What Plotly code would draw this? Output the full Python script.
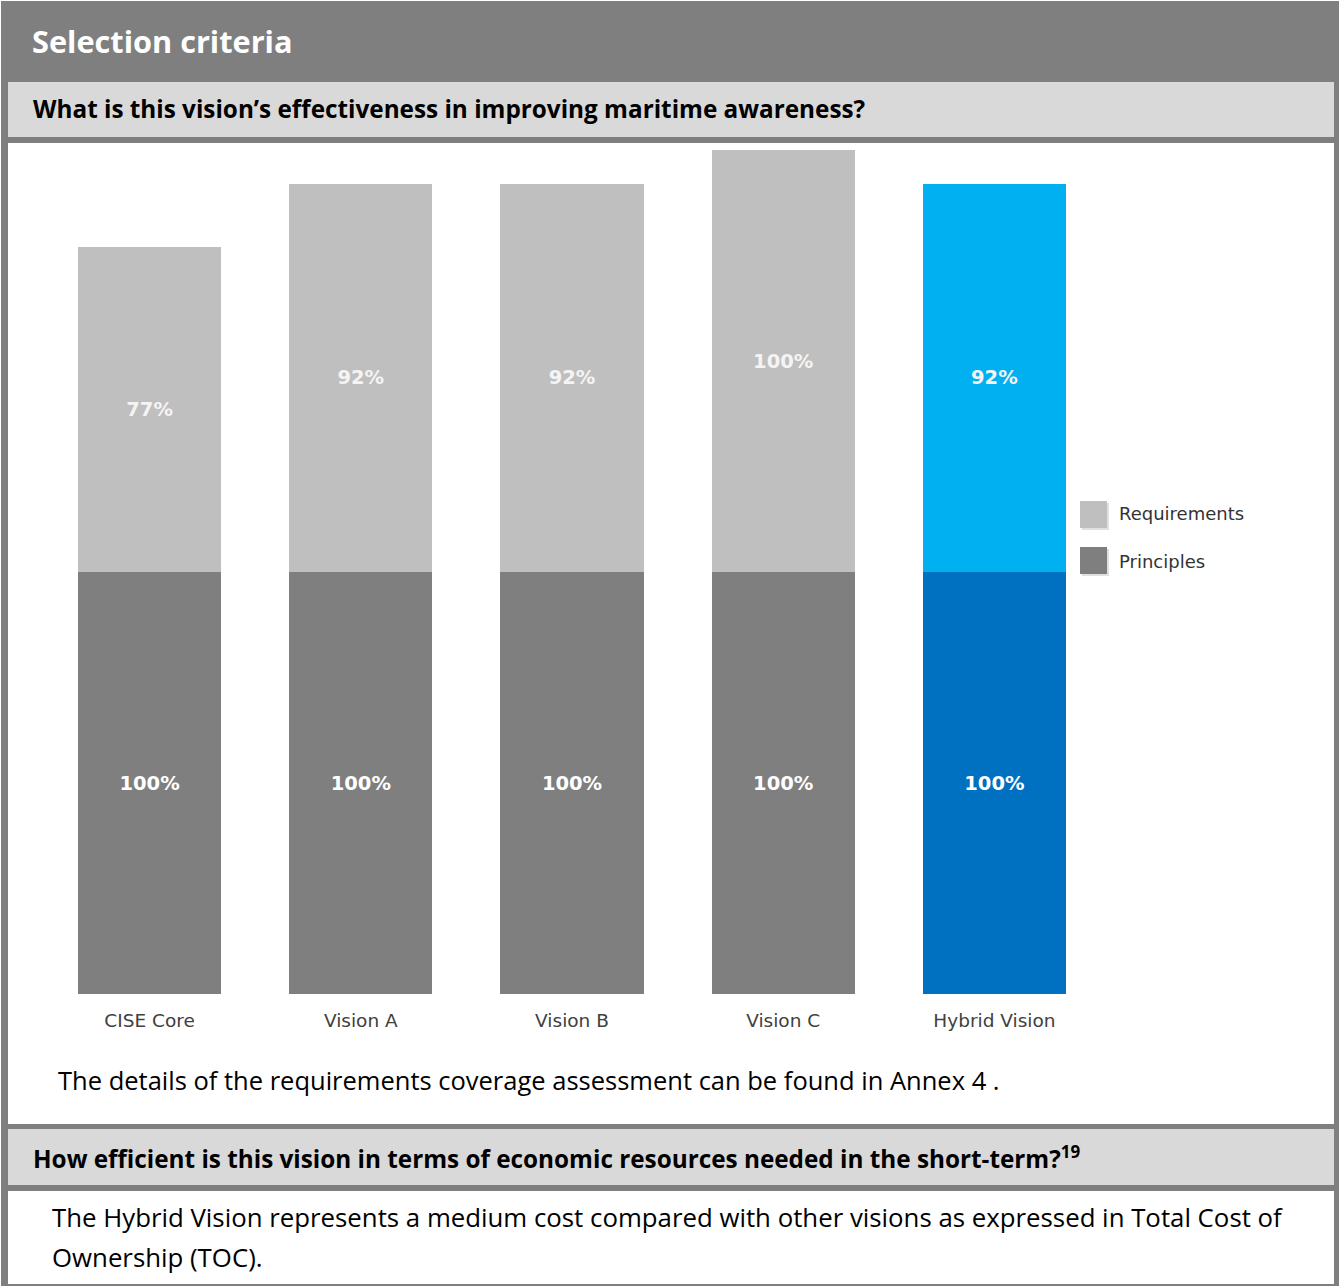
import plotly.graph_objects as go

W, H = 1339, 1286

categories = ["CISE Core", "Vision A", "Vision B", "Vision C", "Hybrid Vision"]
principles = [100, 100, 100, 100, 100]
requirements = [77, 92, 92, 100, 92]
principles_colors = ["#7f7f7f", "#7f7f7f", "#7f7f7f", "#7f7f7f", "#0070c0"]
requirements_colors = ["#bfbfbf", "#bfbfbf", "#bfbfbf", "#bfbfbf", "#00b0f0"]

title_text = "Selection criteria"
question1 = "What is this vision’s effectiveness in improving maritime awareness?"
note1 = "The details of the requirements coverage assessment can be found in Annex 4 ."
question2 = "How efficient is this vision in terms of economic resources needed in the short-term?<sup>19</sup>"
note2_line1 = "The Hybrid Vision represents a medium cost compared with other visions as expressed in Total Cost of"
note2_line2 = "Ownership (TOC)."


def xp(px):
    return px / W


def yp(py):
    return 1 - py / H


TEXT_FONT = "Open Sans"
LABEL_FONT = "DejaVu Sans"

fig = go.Figure()
fig.add_trace(go.Bar(
    x=categories, y=principles, name="Principles",
    marker=dict(color=principles_colors, line=dict(width=0)),
    text=[f"{v}%" for v in principles],
    textposition="inside", insidetextanchor="middle", textangle=0,
    textfont=dict(family=LABEL_FONT, size=19.5, color="white", weight="bold"),
    legendgroup="p", legendrank=2, width=0.678, hoverinfo="skip",
))
fig.add_trace(go.Bar(
    x=categories, y=requirements, name="Requirements",
    marker=dict(color=requirements_colors, line=dict(width=0)),
    text=[f"{v}%" for v in requirements],
    textposition="inside", insidetextanchor="middle", textangle=0,
    textfont=dict(family=LABEL_FONT, size=19.5, color="#f4f4f4", weight="bold"),
    legendgroup="r", legendrank=1, width=0.678, hoverinfo="skip",
))

shapes = []


def rect(x0, y0, x1, y1, color, layer="below"):
    shapes.append(dict(type="rect", xref="paper", yref="paper",
                       x0=xp(x0), x1=xp(x1), y0=yp(y1), y1=yp(y0),
                       fillcolor=color, line=dict(width=0), layer=layer))


# page frame and bands
rect(1, 1, W, H, "#7f7f7f")
rect(8, 82, 1334, 137, "#d9d9d9")
rect(8, 143, 1334, 1124, "#ffffff")
rect(8, 1129, 1334, 1185, "#d9d9d9")
rect(8, 1191, 1334, 1284, "#ffffff")

# larger legend swatches (with a soft shadow), covering the default ones
rect(1082, 503, 1109, 530, "rgba(0,0,0,0.12)", "above")
rect(1080, 501, 1107, 528, requirements_colors[0], "above")
rect(1082, 549, 1109, 576, "rgba(0,0,0,0.12)", "above")
rect(1080, 547, 1107, 574, principles_colors[0], "above")

annotations = []


def text(px, py, s, size, color="black", bold=False):
    annotations.append(dict(
        xref="paper", yref="paper", x=xp(px), y=yp(py), text=s,
        showarrow=False, xanchor="left", yanchor="middle", align="left",
        font=dict(family=TEXT_FONT, size=size, color=color,
                  weight="bold" if bold else "normal"),
    ))


text(30, 41, title_text, 30.7, "white", True)
text(31, 109, question1, 24.3, "black", True)
text(56, 1080, note1, 25.5, "black")
text(31, 1157, question2, 24.3, "black", True)
text(50, 1217, note2_line1, 25.8, "black")
text(50, 1257, note2_line2, 25.8, "black")

fig.update_layout(
    width=W, height=H,
    margin=dict(l=0, r=0, t=0, b=0),
    paper_bgcolor="white",
    plot_bgcolor="rgba(0,0,0,0)",
    barmode="stack",
    showlegend=True,
    legend=dict(
        x=xp(1079), y=yp(537), xanchor="left", yanchor="middle",
        traceorder="grouped", tracegroupgap=22,
        font=dict(family=LABEL_FONT, size=18, color="#333333"),
        bgcolor="rgba(0,0,0,0)",
    ),
    xaxis=dict(
        domain=[xp(44), xp(1100)], range=[-0.5, 4.5],
        showgrid=False, zeroline=False, showline=False,
        ticks="outside", ticklen=10, tickcolor="rgba(0,0,0,0)",
        tickfont=dict(family=LABEL_FONT, size=18.5, color="#404040"),
    ),
    yaxis=dict(
        domain=[yp(994), yp(150)], range=[0, 200],
        showgrid=False, zeroline=False, showline=False,
        showticklabels=False, ticks="",
    ),
    shapes=shapes,
    annotations=annotations,
)

fig.write_html(
    "out.html",
    config={"displayModeBar": False},
    post_script="document.body.style.margin='0';document.body.style.padding='0';",
)
